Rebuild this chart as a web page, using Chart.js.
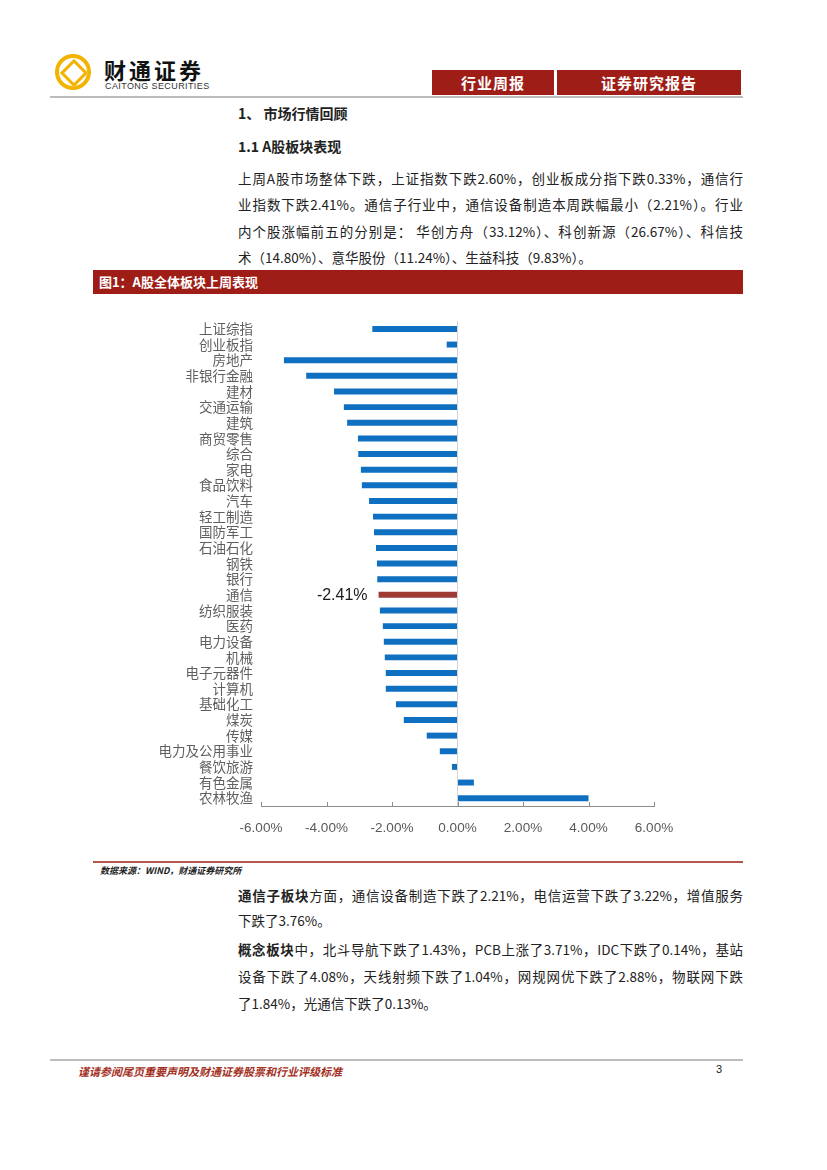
<!DOCTYPE html>
<html>
<head>
<meta charset="utf-8">
<script src="https://cdn.jsdelivr.net/npm/chart.js@4.4.1/dist/chart.umd.min.js"></script>
<style>
	body { margin: 0; background: #fff; font-family: "Noto Sans CJK SC", sans-serif; color: #222; }
	.page { position: relative; width: 827px; height: 1170px; overflow: hidden; }
	.abs { position: absolute; }
	.logo-ring { left: 55px; top: 54px; width: 28px; height: 28px; border: 4px solid #F2B400; border-radius: 50%; }
	.logo-dia { left: 64px; top: 63px; width: 14px; height: 14px; border: 3px solid #F2B400; transform: rotate(45deg); background: #fff; }
	.brand { left: 104px; top: 57px; font-size: 22px; font-weight: 700; letter-spacing: 3px; color: #111; line-height: 24px; }
	.brand-en { left: 105px; top: 81px; font-family: "Liberation Sans", sans-serif; font-size: 9px; letter-spacing: 0.4px; color: #333; }
	.hbox { top: 70px; height: 25px; background: #9E1E17; color: #fff; font-weight: 700; font-size: 15px; line-height: 25px; text-align: center; letter-spacing: 1px; }
	.rule { background: #bcbcbc; height: 2px; }
	.h1 { left: 238px; top: 103px; font-size: 14px; font-weight: 700; }
	.h2 { left: 238px; top: 136px; font-size: 14px; font-weight: 700; }
	.line { left: 238px; width: 505px; font-size: 13.5px; line-height: 18px; text-align: justify; text-align-last: justify; white-space: nowrap; }
	.line.last { text-align-last: left; }
	.figbar { left: 93px; top: 270px; width: 650px; height: 24px; background: #9E1E17; color: #fff; font-weight: 700; font-size: 13px; line-height: 24px; }
	.src { left: 100px; top: 861px; font-size: 9px; font-weight: 700; font-style: italic; color: #222; }
	.foot { left: 78px; top: 1063px; font-size: 11px; font-weight: 700; font-style: italic; color: #A3301E; }
	#wrap { position: absolute; left: 150px; top: 305px; width: 550px; height: 540px; }
</style>
</head>
<body>
<div class="page">
	<div class="abs logo-ring"></div>
	<div class="abs logo-dia"></div>
	<div class="abs brand">财通证券</div>
	<div class="abs brand-en">CAITONG SECURITIES</div>
	<div class="abs hbox" style="left:432px; width:122px;">行业周报</div>
	<div class="abs hbox" style="left:557px; width:184px;">证券研究报告</div>
	<div class="abs rule" style="left:50px; top:96px; width:693px;"></div>

	<div class="abs h1">1、 市场行情回顾</div>
	<div class="abs h2">1.1 A股板块表现</div>
	<div class="abs line" style="top:169px;">上周A股市场整体下跌，上证指数下跌2.60%，创业板成分指下跌0.33%，通信行</div>
	<div class="abs line" style="top:195px;">业指数下跌2.41%。通信子行业中，通信设备制造本周跌幅最小（2.21%）。行业</div>
	<div class="abs line" style="top:222px;">内个股涨幅前五的分别是： 华创方舟（33.12%）、科创新源（26.67%）、科信技</div>
	<div class="abs line last" style="top:248px;">术（14.80%）、意华股份（11.24%）、生益科技（9.83%）。</div>

	<div class="abs figbar">&nbsp;&nbsp;图1：A股全体板块上周表现</div>

	<div id="wrap"><canvas id="chart"></canvas></div>

	<div class="abs" style="left:93px; top:861px; width:650px; height:1.5px; background:#B5574F;"></div>
	<div class="abs src" style="top:864px;">数据来源：WIND，财通证券研究所</div>

	<div class="abs line" style="top:886px;"><b>通信子板块</b>方面，通信设备制造下跌了2.21%，电信运营下跌了3.22%，增值服务</div>
	<div class="abs line last" style="top:911px;">下跌了3.76%。</div>
	<div class="abs line" style="top:940px;"><b>概念板块</b>中，北斗导航下跌了1.43%，PCB上涨了3.71%，IDC下跌了0.14%，基站</div>
	<div class="abs line" style="top:967px;">设备下跌了4.08%，天线射频下跌了1.04%，网规网优下跌了2.88%，物联网下跌</div>
	<div class="abs line last" style="top:994px;">了1.84%，光通信下跌了0.13%。</div>

	<div class="abs rule" style="left:50px; top:1059px; width:693px;"></div>
	<div class="abs foot">谨请参阅尾页重要声明及财通证券股票和行业评级标准</div>
	<div class="abs" style="left:716px; top:1063px; font-size:11px; font-family:'Liberation Sans',sans-serif;">3</div>
</div>

<script>
	// ===== DATA =====
	const categories = ['上证综指', '创业板指', '房地产', '非银行金融', '建材', '交通运输', '建筑', '商贸零售', '综合', '家电',
		'食品饮料', '汽车', '轻工制造', '国防军工', '石油石化', '钢铁', '银行', '通信', '纺织服装', '医药',
		'电力设备', '机械', '电子元器件', '计算机', '基础化工', '煤炭', '传媒', '电力及公用事业', '餐饮旅游', '有色金属', '农林牧渔'];
	const weeklyChange = [-2.60, -0.33, -5.30, -4.62, -3.77, -3.47, -3.37, -3.04, -3.03, -2.95,
		-2.92, -2.70, -2.58, -2.55, -2.49, -2.46, -2.45, -2.41, -2.37, -2.28,
		-2.25, -2.22, -2.19, -2.19, -1.88, -1.64, -0.94, -0.54, -0.17, 0.50, 4.00];
	const highlightName = '通信';
	const xTicks = [-6, -4, -2, 0, 2, 4, 6];

	const blue = '#0F6FC0';
	const red = '#9E3B35';
	const barColors = categories.map(c => c === highlightName ? red : blue);

	// upward tick marks on the x axis
	const innerTicks = {
		id: 'innerTicks',
		afterDraw(chart) {
			const ctx = chart.ctx;
			const xs = chart.scales.x;
			const bottom = chart.chartArea.bottom;
			ctx.save();
			ctx.strokeStyle = '#8c8c8c';
			ctx.lineWidth = 1;
			xs.ticks.forEach(t => {
				const px = Math.round(xs.getPixelForValue(t.value)) + 0.5;
				ctx.beginPath();
				ctx.moveTo(px, bottom);
				ctx.lineTo(px, bottom - 4);
				ctx.stroke();
			});
			ctx.restore();
		}
	};

	// value label for the highlighted bar
	const highlightLabel = {
		id: 'highlightLabel',
		afterDatasetsDraw(chart) {
			const idx = categories.indexOf(highlightName);
			const bar = chart.getDatasetMeta(0).data[idx];
			const ctx = chart.ctx;
			ctx.save();
			ctx.font = '16px "Liberation Sans", sans-serif';
			ctx.fillStyle = '#1a1a1a';
			ctx.textAlign = 'right';
			ctx.textBaseline = 'middle';
			ctx.fillText(weeklyChange[idx].toFixed(2) + '%', Math.min(bar.x, bar.base) - 11, bar.y + 1);
			ctx.restore();
		}
	};

	new Chart(document.getElementById('chart'), {
		type: 'bar',
		data: {
			labels: categories,
			datasets: [{
				data: weeklyChange,
				backgroundColor: barColors,
				borderWidth: 0,
				barPercentage: 0.38,
				categoryPercentage: 1
			}]
		},
		options: {
			indexAxis: 'y',
			responsive: true,
			maintainAspectRatio: false,
			animation: false,
			layout: { padding: { top: 12.5, right: 46, bottom: 0, left: 0 } },
			plugins: {
				legend: { display: false },
				tooltip: { enabled: false }
			},
			scales: {
				x: {
					min: -6,
					max: 6,
					afterBuildTicks: s => { s.ticks = xTicks.map(v => ({ value: v })); },
					afterFit: s => { s.height = 39; },
					border: { display: true, color: '#8c8c8c', width: 1 },
					grid: {
						drawTicks: false,
						color: c => (c.tick && c.tick.value === 0) ? '#d4d4d4' : 'rgba(0,0,0,0)'
					},
					ticks: {
						padding: 14,
						color: '#595959',
						font: { family: '"Liberation Sans", sans-serif', size: 13.5 },
						callback: v => v.toFixed(2) + '%'
					}
				},
				y: {
					afterFit: s => { s.width = 111; },
					border: { display: false },
					grid: { display: false, drawTicks: false },
					ticks: {
						autoSkip: false,
						padding: 8,
						color: '#5f5f5f',
						font: { family: '"Noto Sans CJK SC", sans-serif', size: 13.5 }
					}
				}
			}
		},
		plugins: [innerTicks, highlightLabel]
	});
</script>
</body>
</html>
